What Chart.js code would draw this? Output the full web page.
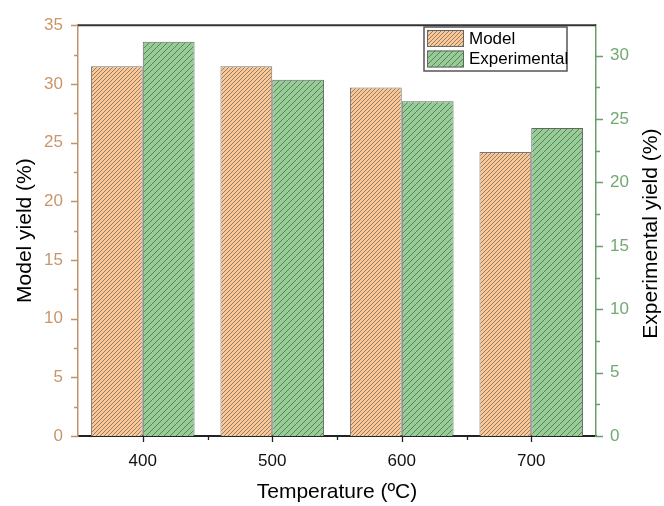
<!DOCTYPE html>
<html>
<head>
<meta charset="utf-8">
<script src="https://cdn.jsdelivr.net/npm/chart.js@4/dist/chart.umd.min.js"></script>
<style>
    body { margin: 0; background: #fff; }
    canvas { display: block; }
</style>
</head>
<body>
<canvas id="grafico" width="664" height="506"></canvas>
<script>
// dados
const temperaturas = ['400', '500', '600', '700'];
const rendimentoModelo = [31.5, 31.5, 29.7, 24.2];
const rendimentoExperimental = [31.1, 28.1, 26.4, 24.3];
const ticksModelo = [0, 5, 10, 15, 20, 25, 30, 35];
const ticksExperimental = [0, 5, 10, 15, 20, 25, 30];

const corModelo = '#c19467';
const corModeloTexto = '#c9966b';
const corExperimental = '#6a9f6a';
const corExperimentalTexto = '#72a872';
const fonte = 'Arial, "Liberation Sans", sans-serif';

function criarHachura(fundo, linha, passo) {
    const c = document.createElement('canvas');
    c.width = passo;
    c.height = passo;
    const ctx = c.getContext('2d');
    ctx.fillStyle = fundo;
    ctx.fillRect(0, 0, passo, passo);
    ctx.strokeStyle = linha;
    ctx.lineWidth = 1;
    ctx.beginPath();
    ctx.moveTo(0, passo);
    ctx.lineTo(passo, 0);
    ctx.moveTo(-1, 1);
    ctx.lineTo(1, -1);
    ctx.moveTo(passo - 1, passo + 1);
    ctx.lineTo(passo + 1, passo - 1);
    ctx.stroke();
    return c.getContext('2d').createPattern(c, 'repeat');
}

const hachuraModelo = criarHachura('#fcc792', '#8f7f70', 4);
const hachuraExperimental = criarHachura('#96cc96', '#5f7f5f', 6);

// marcas dos eixos (maiores e menores), linha de cima e titulo da direita
const marcasEixos = {
    id: 'marcasEixos',
    afterDraw(chart) {
        const { ctx, chartArea } = chart;
        const x = chart.scales.x;
        const y = chart.scales.y;
        const y1 = chart.scales.y1;
        ctx.save();

        ctx.strokeStyle = '#333';
        ctx.lineWidth = 2;
        ctx.beginPath();
        ctx.moveTo(chartArea.left, chartArea.top);
        ctx.lineTo(chartArea.right, chartArea.top);
        ctx.stroke();

        ctx.lineWidth = 1.3;
        ctx.strokeStyle = corModelo;
        ctx.beginPath();
        for (let v = 0; v <= 35; v += 2.5) {
            const py = Math.round(y.getPixelForValue(v)) + 0.5;
            const tam = v % 5 === 0 ? 7 : 4;
            ctx.moveTo(chartArea.left, py);
            ctx.lineTo(chartArea.left - tam, py);
        }
        ctx.stroke();

        ctx.strokeStyle = corExperimental;
        ctx.beginPath();
        for (let v = 0; v <= y1.max; v += 2.5) {
            const py = Math.round(y1.getPixelForValue(v)) + 0.5;
            const tam = v % 5 === 0 ? 7 : 4;
            ctx.moveTo(chartArea.right, py);
            ctx.lineTo(chartArea.right + tam, py);
        }
        ctx.stroke();

        ctx.strokeStyle = '#222';
        ctx.beginPath();
        for (let i = 0; i < temperaturas.length; i++) {
            const px = Math.round(x.getPixelForValue(i)) + 0.5;
            ctx.moveTo(px, chartArea.bottom);
            ctx.lineTo(px, chartArea.bottom + 6);
            if (i > 0) {
                const pm = Math.round(x.getPixelForValue(i - 0.5)) + 0.5;
                ctx.moveTo(pm, chartArea.bottom);
                ctx.lineTo(pm, chartArea.bottom + 4);
            }
        }
        ctx.stroke();

        // titulo do eixo da direita, lido de baixo para cima
        ctx.translate(651, (chartArea.top + chartArea.bottom) / 2 + 3);
        ctx.rotate(-Math.PI / 2);
        ctx.font = '21px ' + fonte;
        ctx.fillStyle = '#000';
        ctx.textAlign = 'center';
        ctx.textBaseline = 'middle';
        ctx.fillText('Experimental yield (%)', 0, 0);
        ctx.restore();
    }
};

// legenda dentro da area do grafico
const legendaInterna = {
    id: 'legendaInterna',
    afterDraw(chart) {
        const ctx = chart.ctx;
        const caixa = { x: 424, y: 27, w: 143, h: 44 };
        ctx.save();
        ctx.fillStyle = '#fff';
        ctx.fillRect(caixa.x, caixa.y, caixa.w, caixa.h);
        ctx.strokeStyle = '#555';
        ctx.lineWidth = 1.5;
        ctx.strokeRect(caixa.x, caixa.y, caixa.w, caixa.h);
        ctx.font = '17px ' + fonte;
        ctx.textBaseline = 'middle';
        chart.data.datasets.forEach((ds, i) => {
            const top = caixa.y + 3 + i * 20.5;
            ctx.fillStyle = ds.backgroundColor;
            ctx.fillRect(caixa.x + 3, top, 37, 17);
            ctx.strokeStyle = '#666';
            ctx.lineWidth = 1;
            ctx.strokeRect(caixa.x + 3.5, top + 0.5, 36, 16);
            ctx.fillStyle = '#000';
            ctx.fillText(ds.label, caixa.x + 45, top + 9);
        });
        ctx.restore();
    }
};

const data = {
    labels: temperaturas,
    datasets: [
        {
            label: 'Model',
            data: rendimentoModelo,
            yAxisID: 'y',
            backgroundColor: hachuraModelo,
            borderColor: '#777',
            borderWidth: 1
        },
        {
            label: 'Experimental',
            data: rendimentoExperimental,
            yAxisID: 'y1',
            backgroundColor: hachuraExperimental,
            borderColor: '#666',
            borderWidth: 1
        }
    ]
};

const options = {
    responsive: false,
    animation: false,
    layout: { padding: { top: 19, left: 0, right: 0, bottom: 0 } },
    datasets: { bar: { categoryPercentage: 0.8, barPercentage: 1 } },
    scales: {
        x: {
            offset: true,
            grid: { display: false, drawTicks: false },
            border: { color: '#222', width: 2 },
            ticks: { color: '#111', font: { size: 17, family: fonte }, padding: 15 },
            title: {
                display: true,
                text: 'Temperature (ºC)',
                color: '#000',
                font: { size: 21, family: fonte },
                padding: { top: 0, bottom: 1 }
            },
            afterFit: (s) => { s.height = 70; }
        },
        y: {
            position: 'left',
            min: 0,
            max: 35,
            afterBuildTicks: (s) => { s.ticks = ticksModelo.map((v) => ({ value: v })); },
            grid: { display: false, drawTicks: false },
            border: { color: corModelo, width: 1.5 },
            ticks: { color: corModeloTexto, font: { size: 17, family: fonte }, padding: 15 },
            title: {
                display: true,
                text: 'Model yield (%)',
                color: '#000',
                font: { size: 21, family: fonte },
                padding: { top: 13, bottom: 0 }
            },
            afterFit: (s) => { s.width = 78; }
        },
        y1: {
            position: 'right',
            min: 0,
            max: 32.4,
            afterBuildTicks: (s) => { s.ticks = ticksExperimental.map((v) => ({ value: v })); },
            grid: { display: false, drawTicks: false },
            border: { color: corExperimental, width: 1.5 },
            ticks: { color: corExperimentalTexto, font: { size: 17, family: fonte }, padding: 14 },
            afterFit: (s) => { s.width = 68; }
        }
    },
    plugins: {
        legend: { display: false },
        tooltip: { enabled: false }
    }
};

new Chart(document.getElementById('grafico'), {
    type: 'bar',
    data: data,
    options: options,
    plugins: [marcasEixos, legendaInterna]
});
</script>
</body>
</html>
